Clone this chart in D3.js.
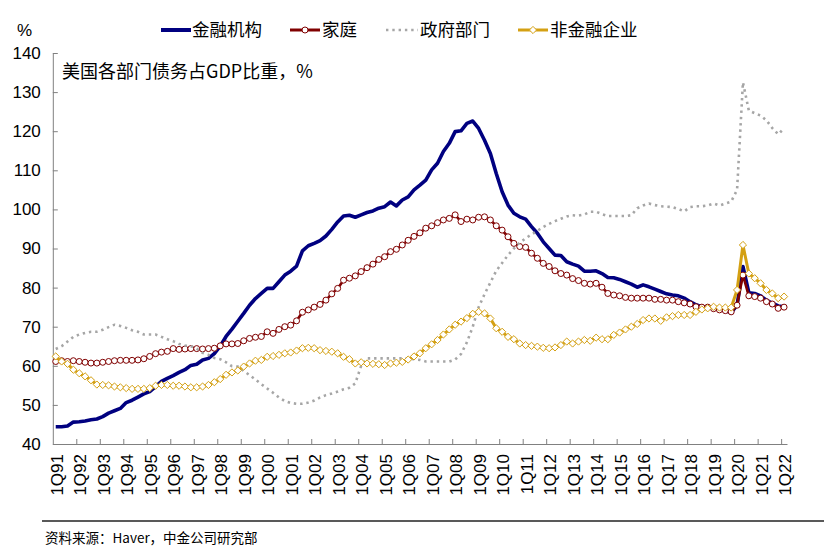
<!DOCTYPE html>
<html><head><meta charset="utf-8">
<script src="https://cdn.jsdelivr.net/npm/d3@7"></script>
<style>body{margin:0;background:#fff}svg{display:block}</style>
</head><body>
<svg id="chart" width="824" height="554"></svg>
<script>
// ---------- data ----------
const years = ["91","92","93","94","95","96","97","98","99","00","01","02","03","04","05","06","07","08","09","10","11","12","13","14","15","16","17","18","19","20","21","22"];
const tickLabels = ["1Q91","1Q92","1Q93","1Q94","1Q95","1Q96","1Q97","1Q98","1Q99","1Q00","1Q01","1Q02","1Q03","1Q04","1Q05","1Q06","1Q07","1Q08","1Q09","1Q10","1Q11","1Q12","1Q13","1Q14","1Q15","1Q16","1Q17","1Q18","1Q19","1Q20","1Q21","1Q22"];
const quarters = [];
years.forEach((y, k) => { for (let q = 1; q <= 4; q++) { if (k === years.length - 1 && q > 1) break; quarters.push(q + "Q" + y); } });
const yTicks = [40,50,60,70,80,90,100,110,120,130,140];
const seriesNames = ["金融机构","家庭","政府部门","非金融企业"];

const financial = [
44.4,44.4,44.6,45.6,45.7,45.9,46.2,46.4,47.0,47.9,
48.5,49.1,50.6,51.2,52.0,52.8,53.4,54.7,56.0,56.8,
57.5,58.3,59.0,60.1,60.4,61.5,61.9,63.1,65.0,67.5,
69.4,71.4,73.4,75.5,77.2,78.5,79.8,79.8,81.5,83.2,
84.2,85.5,89.4,90.7,91.3,92.0,93.2,94.9,96.8,98.3,
98.5,98.0,98.6,99.2,99.6,100.3,100.7,101.9,100.9,102.4,
103.2,105.0,106.2,107.5,110.1,111.8,114.8,116.9,119.9,120.1,
122.0,122.6,120.7,117.7,114.3,109.2,104.5,101.1,99.0,98.1,
97.5,95.6,93.9,91.7,90.0,88.3,88.2,86.6,86.0,85.5,
84.2,84.2,84.3,83.6,82.6,82.5,82.1,81.5,80.9,80.1,
80.7,80.2,79.6,79.0,78.4,78.1,77.9,77.3,76.4,75.6,
75.1,75.0,74.7,74.4,74.1,73.6,75.5,85.4,78.7,78.5,
77.9,76.8,76.0,75.3,75.1];

const household = [
61.1,61.3,61.1,61.3,61.1,60.9,60.7,60.7,60.9,61.1,
61.3,61.4,61.4,61.4,61.5,61.8,62.4,63.1,63.5,63.7,
64.4,64.2,64.3,64.4,64.4,64.3,64.4,64.5,65.1,65.6,
65.6,65.7,66.4,67.0,67.3,67.5,68.7,68.3,69.3,70.0,
70.4,71.5,73.7,74.3,75.0,75.7,76.8,78.4,79.8,81.9,
82.4,83.0,84.1,85.1,86.0,87.2,87.9,89.2,89.8,90.9,
92.1,93.1,94.0,95.2,95.8,96.6,97.3,97.7,98.6,96.9,
97.5,97.3,98.0,98.1,97.3,95.8,94.7,93.0,91.3,90.5,
90.3,88.8,87.5,86.2,85.4,84.3,83.6,83.2,82.3,81.8,
81.1,80.9,81.1,80.1,78.5,78.1,77.9,77.5,77.3,77.3,
77.3,77.3,77.0,77.0,76.8,76.8,76.4,76.1,75.8,75.1,
75.0,75.0,74.6,74.3,74.1,73.8,75.5,83.2,77.9,77.7,
77.3,76.4,75.8,74.7,75.0];

const government = [
64.3,65.0,66.2,67.4,68.0,68.4,68.7,68.7,69.2,69.9,
70.5,70.2,69.7,69.1,68.7,68.0,68.0,68.0,67.4,66.8,
66.3,65.6,65.2,65.0,64.4,63.3,62.8,62.0,61.7,60.9,
59.9,59.8,58.7,57.6,56.5,55.3,54.2,53.1,51.9,51.0,
50.5,50.3,50.3,50.6,51.1,51.9,52.5,52.9,53.4,54.0,
54.4,55.5,60.0,61.9,61.9,61.9,61.9,61.9,61.9,61.9,
61.9,61.7,61.5,61.1,61.1,61.1,61.1,61.1,61.6,63.0,
66.0,70.0,75.0,78.3,81.3,84.3,86.3,88.3,90.0,91.5,
92.6,93.6,94.5,95.5,96.3,97.0,97.6,98.2,98.5,98.4,
98.7,99.4,99.4,98.8,98.3,98.3,98.3,98.3,98.5,100.3,
101.0,101.5,101.1,100.8,100.7,100.6,100.1,99.5,100.6,100.8,
100.8,101.0,101.5,101.0,101.5,102.0,105.0,132.5,125.3,124.6,
124.0,122.8,120.8,119.2,120.7];

const corporate = [
62.4,61.1,60.5,59.0,58.1,57.3,56.3,55.2,55.1,55.0,
54.7,54.5,54.3,54.1,54.1,54.1,54.3,54.9,55.1,55.1,
54.9,54.9,54.7,54.5,54.5,54.7,55.1,55.8,56.6,57.7,
58.3,58.8,59.8,60.6,61.3,61.5,62.3,62.5,62.8,63.2,
63.4,63.9,64.5,64.6,64.5,64.0,63.8,63.6,63.2,62.3,
61.7,60.6,60.9,60.6,60.5,60.4,60.2,60.6,60.8,61.0,
61.6,62.4,63.2,64.5,65.5,66.6,68.0,69.3,70.5,71.3,
72.2,73.3,73.8,73.4,72.1,69.6,68.7,67.4,66.8,65.7,
65.3,65.1,64.9,64.6,64.5,64.7,65.3,66.2,65.7,66.2,
66.6,66.4,67.2,66.8,66.8,67.9,68.5,69.3,70.0,70.7,
71.7,72.1,72.1,71.5,72.4,72.7,73.0,73.0,73.0,73.8,
74.4,74.7,75.1,74.9,74.9,74.9,79.4,90.9,83.6,82.4,
81.1,79.4,78.5,77.3,77.7];

// ---------- chart ----------
const svg = d3.select("#chart");
const LEFT = 52.8, RIGHT = 787, TOP = 53, BOTTOM = 444;
const AX = "#808080";
const C_FIN = "#000080", C_HH = "#800000", C_GOV = "#A6A6A6", C_CORP = "#D4A013";
const latin = "'Liberation Sans', Arial, sans-serif";
const cjk = "'Noto Sans CJK SC', 'Liberation Sans', sans-serif";

const x = d3.scalePoint().domain(quarters).range([LEFT, RIGHT]).padding(0.5);
const xb = d3.scaleLinear().domain([-0.5, quarters.length - 0.5]).range([LEFT, RIGHT]);
const y = d3.scaleLinear().domain([40, 140]).range([BOTTOM, TOP]);

// y axis
const gy = svg.append("g").attr("transform", `translate(${LEFT},0)`)
  .call(d3.axisLeft(y).tickValues(yTicks).tickSize(-5).tickSizeOuter(0).tickPadding(12));
gy.select(".domain").attr("stroke", AX);
gy.selectAll(".tick line").attr("stroke", AX);
gy.selectAll(".tick text").attr("font-family", latin).attr("font-size", 17).attr("fill", "#000");

// x axis (ticks at category boundaries)
const boundaries = [];
for (let k = 1; k < tickLabels.length; k++) boundaries.push(4 * k - 0.5);
const gx = svg.append("g").attr("transform", `translate(0,${BOTTOM})`)
  .call(d3.axisBottom(xb).tickValues(boundaries).tickSize(-5).tickSizeOuter(0).tickFormat(""));
gx.select(".domain").attr("stroke", AX);
gx.selectAll(".tick line").attr("stroke", AX);

// x labels
const gxl = svg.append("g").attr("transform", `translate(0,${BOTTOM})`)
  .call(d3.axisBottom(x).tickValues(tickLabels).tickSize(0).tickPadding(0));
gxl.select(".domain").remove();
gxl.selectAll(".tick text")
  .attr("transform", "rotate(-90)")
  .attr("text-anchor", "end")
  .attr("x", -10).attr("y", 0).attr("dy", "0.38em")
  .attr("font-family", latin).attr("font-size", 17).attr("fill", "#000");

// lines
const line = d3.line().x((d, i) => x(quarters[i])).y(d => y(d));

svg.append("path").datum(financial).attr("fill", "none").attr("stroke", C_FIN)
  .attr("stroke-width", 3.6).attr("stroke-linejoin", "round").attr("d", line);

svg.append("path").datum(household).attr("fill", "none").attr("stroke", C_HH)
  .attr("stroke-width", 2.6).attr("stroke-linejoin", "round").attr("d", line);
svg.append("g").selectAll("circle").data(household).join("circle")
  .attr("cx", (d, i) => x(quarters[i])).attr("cy", d => y(d)).attr("r", 3)
  .attr("fill", "#fff").attr("stroke", C_HH).attr("stroke-width", 1);

svg.append("path").datum(government).attr("fill", "none").attr("stroke", C_GOV)
  .attr("stroke-width", 2.6).attr("stroke-dasharray", "2.4,3.9").attr("d", line);

svg.append("path").datum(corporate).attr("fill", "none").attr("stroke", C_CORP)
  .attr("stroke-width", 3).attr("stroke-linejoin", "round").attr("d", line);
const diamond = "M0,-3.6L3.6,0L0,3.6L-3.6,0Z";
svg.append("g").selectAll("path").data(corporate).join("path")
  .attr("transform", (d, i) => `translate(${x(quarters[i])},${y(d)})`)
  .attr("d", diamond).attr("fill", "#fff").attr("stroke", C_CORP).attr("stroke-width", 1);

// legend
const leg = svg.append("g");
const LY = 30;
leg.append("line").attr("x1", 161).attr("x2", 191).attr("y1", LY).attr("y2", LY).attr("stroke", C_FIN).attr("stroke-width", 4);
leg.append("line").attr("x1", 290).attr("x2", 320).attr("y1", LY).attr("y2", LY).attr("stroke", C_HH).attr("stroke-width", 3);
leg.append("circle").attr("cx", 305).attr("cy", LY).attr("r", 3).attr("fill", "#fff").attr("stroke", C_HH);
leg.append("line").attr("x1", 386).attr("x2", 418).attr("y1", LY).attr("y2", LY).attr("stroke", C_GOV).attr("stroke-width", 2.6).attr("stroke-dasharray", "2.4,3.9");
leg.append("line").attr("x1", 518).attr("x2", 548).attr("y1", LY).attr("y2", LY).attr("stroke", C_CORP).attr("stroke-width", 3);
leg.append("path").attr("transform", `translate(533,${LY})`).attr("d", diamond).attr("fill", "#fff").attr("stroke", C_CORP);
const legX = [192, 322, 420, 550];
seriesNames.forEach((n, k) => {
  leg.append("text").attr("x", legX[k]).attr("y", LY).attr("dy", "0.36em")
    .attr("font-family", cjk).attr("font-size", 17.5).attr("fill", "#000").text(n);
});

// unit & title
svg.append("text").attr("x", 17).attr("y", LY).attr("dy", "0.36em").attr("font-family", latin).attr("font-size", 17).text("%");
svg.append("text").attr("x", 62).attr("y", 72).attr("dy", "0.36em").attr("font-family", cjk).attr("font-size", 18).text("美国各部门债务占GDP比重，%");

// footer
svg.append("line").attr("x1", 42).attr("x2", 824).attr("y1", 521).attr("y2", 521).attr("stroke", "#222").attr("stroke-width", 1.5);
svg.append("text").attr("x", 45).attr("y", 538).attr("dy", "0.36em").attr("font-family", cjk).attr("font-size", 13.5).text("资料来源：Haver，中金公司研究部");
</script>
</body></html>
